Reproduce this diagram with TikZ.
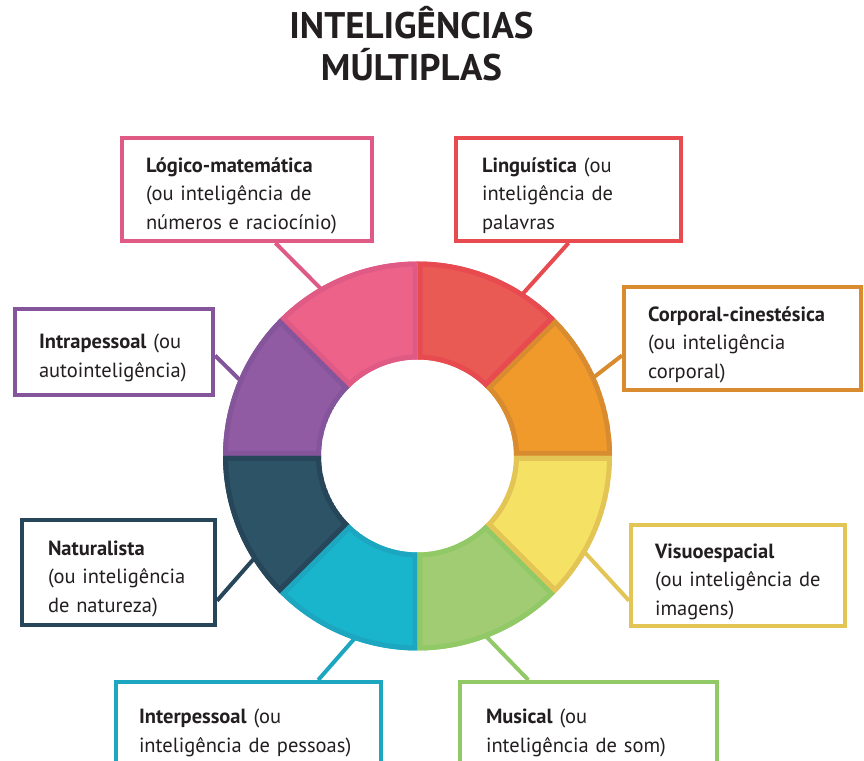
\documentclass[tikz,border=0pt]{standalone}
\usepackage{fontspec}
\setmainfont{PT Sans}
\usetikzlibrary{calc}

\definecolor{texto}{HTML}{231F20}
\definecolor{rosa}{HTML}{EC6289}
\definecolor{rosaesc}{HTML}{E05A86}
\definecolor{vermelho}{HTML}{E95A55}
\definecolor{vermelhoesc}{HTML}{E74B4F}
\definecolor{laranja}{HTML}{F09A2C}
\definecolor{laranjaesc}{HTML}{D88B2F}
\definecolor{amarelo}{HTML}{F5E264}
\definecolor{amareloesc}{HTML}{E3C556}
\definecolor{verde}{HTML}{A1CC74}
\definecolor{verdeesc}{HTML}{92C967}
\definecolor{ciano}{HTML}{19B5CD}
\definecolor{cianoesc}{HTML}{1DA6C0}
\definecolor{petroleo}{HTML}{2C5366}
\definecolor{petroleoesc}{HTML}{27465A}
\definecolor{roxo}{HTML}{915BA4}
\definecolor{roxoesc}{HTML}{85559B}

\begin{document}
\begin{tikzpicture}[x=1pt, y=1pt,
        caixa/.style={draw, line width=4pt, fill=white, align=left, text=texto,
            font=\fontsize{20.5}{28.5}\selectfont, minimum height=103pt,
            execute at begin node={\hyphenpenalty=10000\exhyphenpenalty=10000\rule{0pt}{27pt}}},
        liga/.style={line width=4pt}]
        \useasboundingbox (0,0) rectangle (864,760);
        \clip (0,0) rectangle (864,760);

        \node[font=\bfseries\fontsize{37}{42}\selectfont, text=texto, align=center] (tit) at (411.5,716) {INTELIGÊNCIAS\\MÚLTIPLAS};

        % caixas
        \node[caixa, draw=rosaesc, text width=202pt, inner xsep=24pt] (log) at (247,570.5) {\textbf{Lógico-matemática}\\(ou~inteligência~de\\números~e~raciocínio)};
        \node[caixa, draw=vermelhoesc, text width=173pt, inner xsep=26pt] (lin) at (568.5,570.5) {\textbf{Linguística}~(ou\\inteligência~de\\palavras};
        \node[caixa, draw=laranjaesc, text width=189pt, inner xsep=24pt] (cor) at (742.5,421.5) {\textbf{Corporal-cinestésica}\\(ou~inteligência\\corporal)};
        \node[caixa, draw=roxoesc, text width=150pt, inner xsep=24pt, minimum height=86pt] (intra) at (114,408) {\textbf{Intrapessoal}~(ou\\autointeligência)};
        \node[caixa, draw=petroleoesc, text width=141pt, inner xsep=26pt, minimum height=105pt] (nat) at (118.5,187.5) {\textbf{Naturalista}\\(ou~inteligência\\de~natureza)};
        \node[caixa, draw=amareloesc, text width=166pt, inner xsep=24pt, minimum height=101pt] (vis) at (738,184.5) {\textbf{Visuoespacial}\\(ou~inteligência~de\\imagens)};
        \node[caixa, draw=cianoesc, text width=219pt, inner xsep=23pt, minimum height=90pt] (inter) at (248.5,33) {\textbf{Interpessoal}~(ou\\inteligência~de~pessoas)};
        \node[caixa, draw=verdeesc, text width=205pt, inner xsep=26pt, minimum height=90pt] (mus) at (588.5,33) {\textbf{Musical}~(ou\\inteligência~de~som)};

        % pontas na roda
        \coordinate (plog) at (330,462);
        \coordinate (plin) at (510,452);
        \coordinate (pcor) at (580,372);
        \coordinate (pintra) at (250,370);
        \coordinate (pnat) at (265,214);
        \coordinate (pvis) at (578,215);
        \coordinate (pinter) at (362,130);
        \coordinate (pmus) at (480,130);

        \draw[liga, rosaesc] (log.-62) -- (plog);
        \draw[liga, vermelhoesc] (lin.south) -- (plin);
        \draw[liga, laranjaesc] (cor.188) -- (pcor);
        \draw[liga, roxoesc] (intra.-2) -- (pintra);
        \draw[liga, petroleoesc] (nat.-16) -- (pnat);
        \draw[liga, amareloesc] (vis.193) -- (pvis);
        \draw[liga, cianoesc] (inter.34.5) -- (pinter);
        \draw[liga, verdeesc] (mus.142.6) -- (pmus);

        % roda
        \begin{scope}[shift={(417.5,304)}]
            \foreach \a/\f/\d in {0/laranja/laranjaesc, 45/vermelho/vermelhoesc, 90/rosa/rosaesc, 135/roxo/roxoesc,
                180/petroleo/petroleoesc, 225/ciano/cianoesc, 270/verde/verdeesc, 315/amarelo/amareloesc} {
                \begin{scope}
                    \clip (\a:194.5) arc[start angle=\a, delta angle=45, radius=194.5] -- ({\a+45}:96.5) arc[start angle={\a+45}, delta angle=-45, radius=96.5] -- cycle;
                    \filldraw[fill=\f, draw=\d, line width=10pt] (\a:194.5) arc[start angle=\a, delta angle=45, radius=194.5] -- ({\a+45}:96.5) arc[start angle={\a+45}, delta angle=-45, radius=96.5] -- cycle;
                \end{scope}
            }
        \end{scope}
    \end{tikzpicture}
\end{document}
